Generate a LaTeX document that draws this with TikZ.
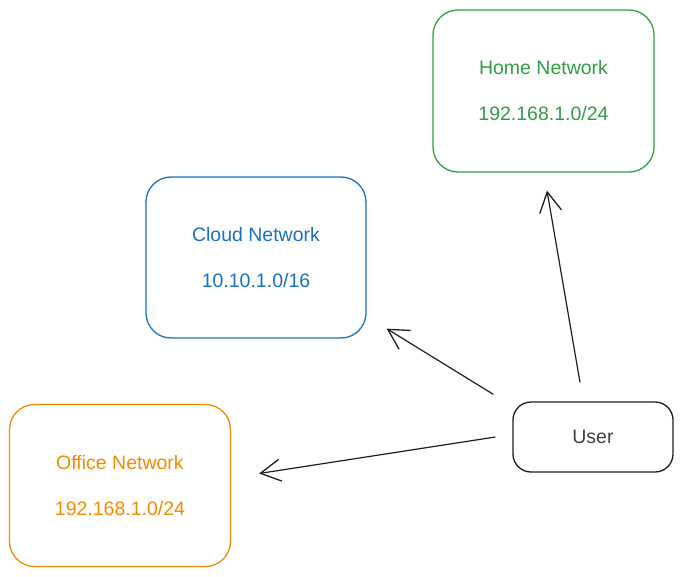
\documentclass[tikz,border=0pt]{standalone}
\usepackage{fontspec}
\setmainfont{Liberation Sans}
\usetikzlibrary{arrows.meta}
\definecolor{homegreen}{HTML}{2F9E44}
\definecolor{cloudblue}{HTML}{1971C2}
\definecolor{officeorange}{HTML}{F08C00}
\definecolor{inkblack}{HTML}{1E1E1E}
\begin{document}
\begin{tikzpicture}[x=1pt, y=-1pt,
	netbox/.style={draw, line width=1.3pt, rounded corners=25pt, inner sep=0pt,
		minimum width=221pt, minimum height=162pt, align=center,
		font=\fontsize{19.5}{46}\selectfont},
	userbox/.style={draw=inkblack, line width=1.3pt, rounded corners=18pt, inner sep=0pt,
		minimum width=160pt, minimum height=70pt, text=inkblack!85,
		font=\fontsize{19.5}{24}\selectfont},
	link/.style={draw=inkblack, line width=1.2pt,
		-{Straight Barb[length=20pt,width=22pt,line width=1.3pt]}}]

	\useasboundingbox (0,0) rectangle (683,576);

	% networks
	\node[netbox, draw=homegreen, text=homegreen] (home) at (543.5,91) {Home Network\\192.168.1.0/24};
	\node[netbox, draw=cloudblue, text=cloudblue, minimum width=220pt, minimum height=161pt] (cloud) at (256,257.5) {Cloud Network\\10.10.1.0/16};
	\node[netbox, draw=officeorange, text=officeorange] (office) at (120,485.5) {Office Network\\192.168.1.0/24};

	% user
	\node[userbox] (user) at (593,437) {User};

	% arrows
	\draw[link] ([shift={(-13pt,19pt)}]user.north) -- ([shift={(3.5pt,-18pt)}]home.south);
	\draw[link] ([shift={(-19pt,7pt)}]user.north west) -- ([shift={(20pt,10pt)}]cloud.south east);
	\draw[link] ([xshift=-17pt]user.west) -- ([shift={(28pt,12pt)}]office.east);

\end{tikzpicture}
\end{document}
